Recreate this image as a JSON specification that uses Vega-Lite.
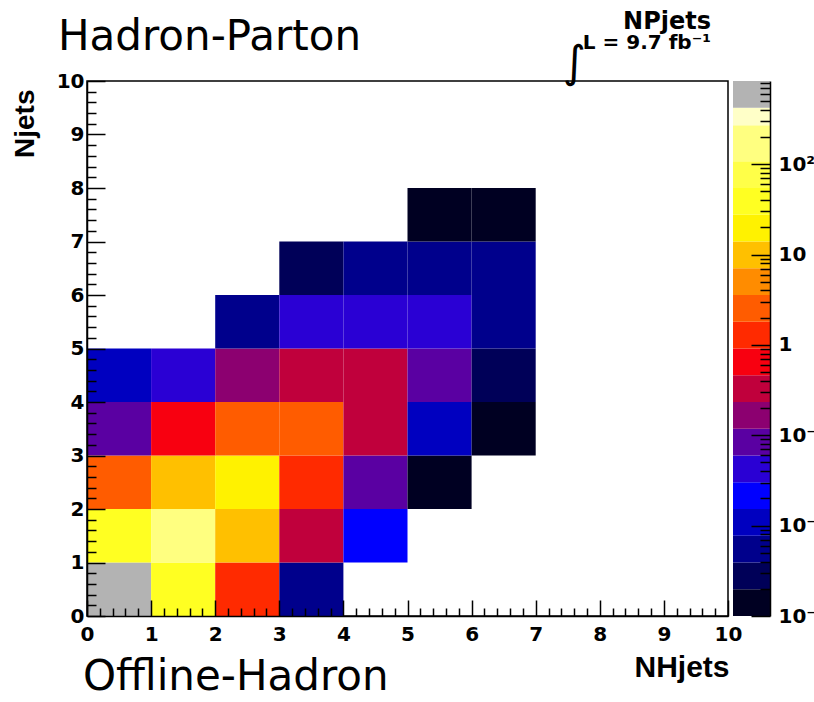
{
  "$schema": "https://vega.github.io/schema/vega-lite/v6.json",
  "background": "white",
  "padding": {"left": 10, "top": 10, "right": 0, "bottom": 0},
  "bounds": "flush",
  "spacing": 5,
  "resolve": {"scale": {"color": "independent"}},
  "title": {"text": "Offline-Hadron", "orient": "bottom", "anchor": "start", "frame": "group", "font": "DejaVu Sans", "fontSize": 42, "fontWeight": "normal", "color": "black", "baseline": "alphabetic", "dx": -4, "offset": 7},
  "datasets": {
    "cells": [
      {"nh": 0, "nh2": 1, "nj": 0, "nj2": 1, "z": 600},
      {"nh": 1, "nh2": 2, "nj": 0, "nj2": 1, "z": 36},
      {"nh": 2, "nh2": 3, "nj": 0, "nj2": 1, "z": 1.3},
      {"nh": 3, "nh2": 4, "nj": 0, "nj2": 1, "z": 0.0055},
      {"nh": 0, "nh2": 1, "nj": 1, "nj2": 2, "z": 40},
      {"nh": 1, "nh2": 2, "nj": 1, "nj2": 2, "z": 170},
      {"nh": 2, "nh2": 3, "nj": 1, "nj2": 2, "z": 9.5},
      {"nh": 3, "nh2": 4, "nj": 1, "nj2": 2, "z": 0.33},
      {"nh": 4, "nh2": 5, "nj": 1, "nj2": 2, "z": 0.021},
      {"nh": 0, "nh2": 1, "nj": 2, "nj2": 3, "z": 2.6},
      {"nh": 1, "nh2": 2, "nj": 2, "nj2": 3, "z": 10.2},
      {"nh": 2, "nh2": 3, "nj": 2, "nj2": 3, "z": 19.6},
      {"nh": 3, "nh2": 4, "nj": 2, "nj2": 3, "z": 1.25},
      {"nh": 4, "nh2": 5, "nj": 2, "nj2": 3, "z": 0.085},
      {"nh": 5, "nh2": 6, "nj": 2, "nj2": 3, "z": 0.0014},
      {"nh": 0, "nh2": 1, "nj": 3, "nj2": 4, "z": 0.082},
      {"nh": 1, "nh2": 2, "nj": 3, "nj2": 4, "z": 0.65},
      {"nh": 2, "nh2": 3, "nj": 3, "nj2": 4, "z": 2.5},
      {"nh": 3, "nh2": 4, "nj": 3, "nj2": 4, "z": 2.4},
      {"nh": 4, "nh2": 5, "nj": 3, "nj2": 4, "z": 0.34},
      {"nh": 5, "nh2": 6, "nj": 3, "nj2": 4, "z": 0.011},
      {"nh": 6, "nh2": 7, "nj": 3, "nj2": 4, "z": 0.0014},
      {"nh": 0, "nh2": 1, "nj": 4, "nj2": 5, "z": 0.011},
      {"nh": 1, "nh2": 2, "nj": 4, "nj2": 5, "z": 0.042},
      {"nh": 2, "nh2": 3, "nj": 4, "nj2": 5, "z": 0.17},
      {"nh": 3, "nh2": 4, "nj": 4, "nj2": 5, "z": 0.32},
      {"nh": 4, "nh2": 5, "nj": 4, "nj2": 5, "z": 0.31},
      {"nh": 5, "nh2": 6, "nj": 4, "nj2": 5, "z": 0.083},
      {"nh": 6, "nh2": 7, "nj": 4, "nj2": 5, "z": 0.0028},
      {"nh": 2, "nh2": 3, "nj": 5, "nj2": 6, "z": 0.0056},
      {"nh": 3, "nh2": 4, "nj": 5, "nj2": 6, "z": 0.043},
      {"nh": 4, "nh2": 5, "nj": 5, "nj2": 6, "z": 0.042},
      {"nh": 5, "nh2": 6, "nj": 5, "nj2": 6, "z": 0.041},
      {"nh": 6, "nh2": 7, "nj": 5, "nj2": 6, "z": 0.0054},
      {"nh": 3, "nh2": 4, "nj": 6, "nj2": 7, "z": 0.0028},
      {"nh": 4, "nh2": 5, "nj": 6, "nj2": 7, "z": 0.0055},
      {"nh": 5, "nh2": 6, "nj": 6, "nj2": 7, "z": 0.0056},
      {"nh": 6, "nh2": 7, "nj": 6, "nj2": 7, "z": 0.0054},
      {"nh": 5, "nh2": 6, "nj": 7, "nj2": 8, "z": 0.0014},
      {"nh": 6, "nh2": 7, "nj": 7, "nj2": 8, "z": 0.0014}
    ],
    "bands": [
      {"lo": 0.001, "hi": 0.001977, "z": 0.0014},
      {"lo": 0.001977, "hi": 0.003908, "z": 0.00278},
      {"lo": 0.003908, "hi": 0.007727, "z": 0.0055},
      {"lo": 0.007727, "hi": 0.01528, "z": 0.01087},
      {"lo": 0.01528, "hi": 0.0302, "z": 0.0215},
      {"lo": 0.0302, "hi": 0.0597, "z": 0.04246},
      {"lo": 0.0597, "hi": 0.118, "z": 0.0839},
      {"lo": 0.118, "hi": 0.2333, "z": 0.1659},
      {"lo": 0.2333, "hi": 0.4613, "z": 0.328},
      {"lo": 0.4613, "hi": 0.912, "z": 0.6486},
      {"lo": 0.912, "hi": 1.803, "z": 1.282},
      {"lo": 1.803, "hi": 3.565, "z": 2.535},
      {"lo": 3.565, "hi": 7.047, "z": 5.012},
      {"lo": 7.047, "hi": 13.93, "z": 9.908},
      {"lo": 13.93, "hi": 27.54, "z": 19.59},
      {"lo": 27.54, "hi": 54.45, "z": 38.72},
      {"lo": 54.45, "hi": 107.7, "z": 76.58},
      {"lo": 107.7, "hi": 270, "z": 170.5},
      {"lo": 270, "hi": 420.7, "z": 337},
      {"lo": 420.7, "hi": 831.8, "z": 591.6}
    ]
  },
  "hconcat": [
    {
      "width": 641,
      "height": 535,
      "view": {"stroke": "black", "strokeWidth": 1.5},
      "title": {"text": "Hadron-Parton", "anchor": "start", "frame": "group", "font": "DejaVu Sans", "fontSize": 42, "fontWeight": "normal", "color": "black", "baseline": "alphabetic", "dx": -29, "offset": -21},
      "data": {"name": "cells"},
      "mark": {"type": "rect", "stroke": null},
      "encoding": {
        "x": {
          "field": "nh", "type": "quantitative",
          "scale": {"domain": [0, 10], "nice": false, "zero": false},
          "axis": {
            "orient": "bottom", "zindex": 1,
            "values": [0,0.2,0.4,0.6,0.8,1,1.2,1.4,1.6,1.8,2,2.2,2.4,2.6,2.8,3,3.2,3.4,3.6,3.8,4,4.2,4.4,4.6,4.8,5,5.2,5.4,5.6,5.8,6,6.2,6.4,6.6,6.8,7,7.2,7.4,7.6,7.8,8,8.2,8.4,8.6,8.8,9,9.2,9.4,9.6,9.8,10],
            "labelExpr": "datum.value % 1 === 0 ? format(datum.value, 'd') : ''",
            "labelOverlap": false, "labelFlush": false,
            "labelFont": "DejaVu Sans", "labelFontWeight": "bold", "labelFontSize": 20, "labelColor": "black",
            "labelPadding": 24,
            "tickSize": {"condition": {"test": "datum.value % 1 === 0", "value": -16}, "value": -8},
            "tickColor": "black", "tickWidth": 1.5,
            "domainColor": "black", "domainWidth": 1.5,
            "grid": false,
            "title": "NHjets", "titleFont": "Liberation Sans", "titleFontWeight": "bold", "titleFontSize": 30, "titleColor": "black",
            "titleAnchor": "end", "titleAlign": "right", "titleBaseline": "alphabetic", "titleX": 642, "titleY": 60
          }
        },
        "x2": {"field": "nh2"},
        "y": {
          "field": "nj", "type": "quantitative",
          "scale": {"domain": [0, 10], "nice": false, "zero": false},
          "axis": {
            "orient": "left", "zindex": 1,
            "values": [0,0.2,0.4,0.6,0.8,1,1.2,1.4,1.6,1.8,2,2.2,2.4,2.6,2.8,3,3.2,3.4,3.6,3.8,4,4.2,4.4,4.6,4.8,5,5.2,5.4,5.6,5.8,6,6.2,6.4,6.6,6.8,7,7.2,7.4,7.6,7.8,8,8.2,8.4,8.6,8.8,9,9.2,9.4,9.6,9.8,10],
            "labelExpr": "datum.value % 1 === 0 ? format(datum.value, 'd') : ''",
            "labelOverlap": false, "labelFlush": false,
            "labelFont": "DejaVu Sans", "labelFontWeight": "bold", "labelFontSize": 20, "labelColor": "black",
            "labelPadding": 21,
            "tickSize": {"condition": {"test": "datum.value % 1 === 0", "value": -18}, "value": -9},
            "tickColor": "black", "tickWidth": 1.5,
            "domainColor": "black", "domainWidth": 1.5,
            "grid": false,
            "title": "Njets", "titleFont": "Liberation Sans", "titleFontWeight": "bold", "titleFontSize": 28, "titleColor": "black",
            "titleAngle": -90, "titleAlign": "right", "titleBaseline": "alphabetic", "titleX": -54, "titleY": 8
          }
        },
        "y2": {"field": "nj2"},
        "color": {
          "field": "z", "type": "quantitative",
          "scale": {
            "type": "threshold",
            "domain": [0.001977, 0.003908, 0.007727, 0.01528, 0.0302, 0.0597, 0.118, 0.2333, 0.4613, 0.912, 1.803, 3.565, 7.047, 13.93, 27.54, 54.45, 107.7, 270, 420.7],
            "range": ["#000022", "#000058", "#00008c", "#0000c0", "#0000ff", "#2a00d4", "#5a00a2", "#8c0070", "#c0003c", "#f80010", "#ff2a00", "#ff5c00", "#ff8c00", "#ffc000", "#fff200", "#ffff22", "#ffff48", "#ffff80", "#ffffc8", "#b3b3b3"]
          },
          "legend": null
        }
      }
    },
    {
      "width": 37,
      "height": 535,
      "view": {"stroke": null},
      "title": {"text": "NPjets", "subtitle": "L = 9.7 fb⁻¹", "anchor": "end", "frame": "group", "font": "DejaVu Sans", "fontSize": 24, "fontWeight": "bold", "color": "black", "subtitleFont": "DejaVu Sans", "subtitleFontSize": 20, "subtitleFontWeight": "bold", "subtitleColor": "black", "subtitlePadding": -1, "dx": -59, "offset": -12},
      "data": {"name": "bands"},
      "mark": {"type": "rect", "stroke": null},
      "encoding": {
        "y": {
          "field": "lo", "type": "quantitative",
          "scale": {"type": "log", "domain": [0.001, 831.8], "nice": false},
          "axis": {
            "orient": "right", "zindex": 1,
            "values": [0.001,0.002,0.003,0.004,0.005,0.006,0.007,0.008,0.009,0.01,0.02,0.03,0.04,0.05,0.06,0.07,0.08,0.09,0.1,0.2,0.3,0.4,0.5,0.6,0.7,0.8,0.9,1,2,3,4,5,6,7,8,9,10,20,30,40,50,60,70,80,90,100,200,300,400,500,600,700,800],
            "labelExpr": "datum.value < 0.0011 ? '10⁻³' : (datum.value > 0.0099 && datum.value < 0.0101) ? '10⁻²' : (datum.value > 0.099 && datum.value < 0.101) ? '10⁻¹' : datum.value == 1 ? '1' : datum.value == 10 ? '10' : datum.value == 100 ? '10²' : ''",
            "labelOverlap": false, "labelFlush": false,
            "labelFont": "DejaVu Sans", "labelFontWeight": "bold", "labelFontSize": 20, "labelColor": "black",
            "labelPadding": 27,
            "tickSize": {"condition": {"test": "abs(log(datum.value)/LN10 - round(log(datum.value)/LN10)) < 0.000001", "value": -19}, "value": -10},
            "tickColor": "black", "tickWidth": 1.5,
            "domainColor": "black", "domainWidth": 1.5,
            "grid": false,
            "title": "∫", "titleFont": "DejaVu Sans", "titleFontSize": 44, "titleFontWeight": "normal", "titleColor": "black",
            "titleAngle": 0, "titleAlign": "center", "titleBaseline": "alphabetic", "titleX": -196, "titleY": -5
          }
        },
        "y2": {"field": "hi"},
        "color": {
          "field": "z", "type": "quantitative",
          "scale": {
            "type": "threshold",
            "domain": [0.001977, 0.003908, 0.007727, 0.01528, 0.0302, 0.0597, 0.118, 0.2333, 0.4613, 0.912, 1.803, 3.565, 7.047, 13.93, 27.54, 54.45, 107.7, 270, 420.7],
            "range": ["#000022", "#000058", "#00008c", "#0000c0", "#0000ff", "#2a00d4", "#5a00a2", "#8c0070", "#c0003c", "#f80010", "#ff2a00", "#ff5c00", "#ff8c00", "#ffc000", "#fff200", "#ffff22", "#ffff48", "#ffff80", "#ffffc8", "#b3b3b3"]
          },
          "legend": null
        }
      }
    }
  ]
}
